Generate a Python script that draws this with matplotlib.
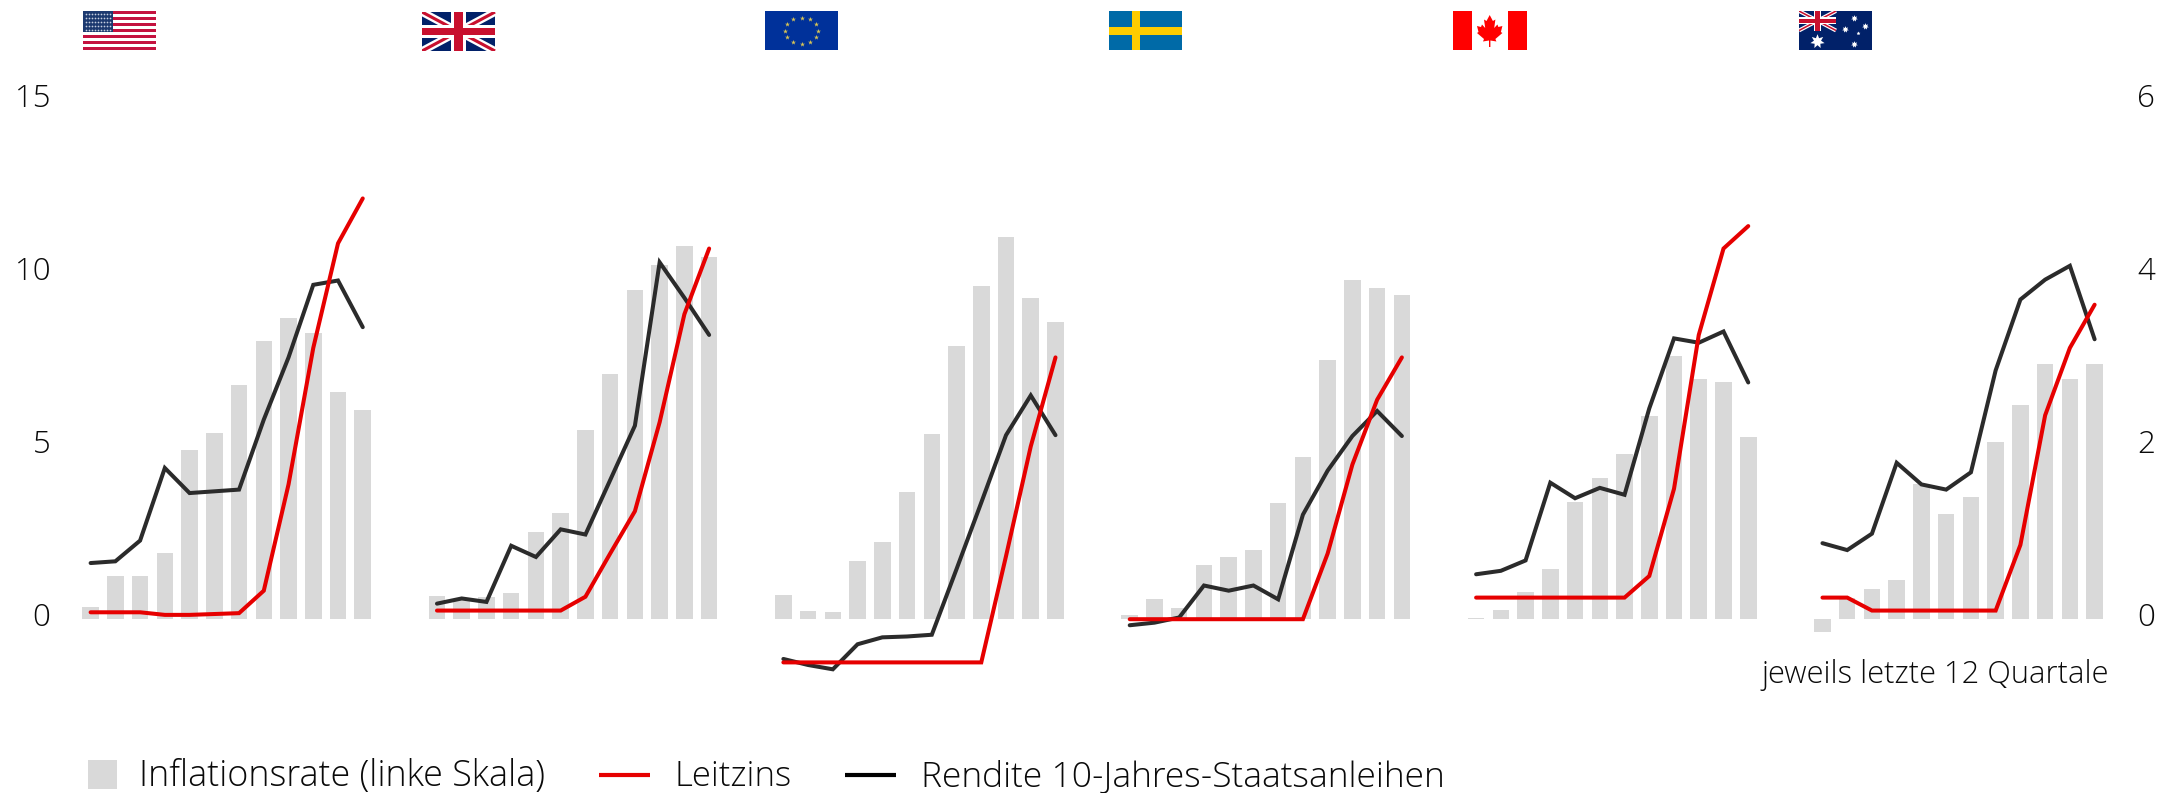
import numpy as np
import matplotlib
matplotlib.use("Agg")
import matplotlib.pyplot as plt
from matplotlib.lines import Line2D
from matplotlib.patches import Rectangle, Polygon
from matplotlib.transforms import ScaledTranslation

plt.rcParams['font.family'] = ['Open Sans', 'DejaVu Sans']

# ==========================================
# Daten (12 Quartale je Land)
# ==========================================
us_inflation = [0.36, 1.24, 1.25, 1.91, 4.9, 5.39, 6.77, 8.05, 8.72, 8.28, 6.56, 6.06]
us_yield = [0.65, 0.67, 0.91, 1.75, 1.46, 1.48, 1.50, 2.31, 3.03, 3.87, 3.92, 3.38]
us_policy = [0.08, 0.08, 0.08, 0.05, 0.05, 0.06, 0.07, 0.33, 1.56, 3.14, 4.35, 4.87]

uk_inflation = [0.66, 0.55, 0.65, 0.76, 2.52, 3.06, 5.47, 7.09, 9.52, 10.25, 10.8, 10.49]
uk_yield = [0.18, 0.24, 0.2, 0.85, 0.72, 1.04, 0.98, 1.61, 2.24, 4.13, 3.72, 3.29]
uk_policy = [0.1, 0.1, 0.1, 0.1, 0.1, 0.1, 0.26, 0.76, 1.25, 2.28, 3.53, 4.29]

eu_inflation = [0.71, 0.23, 0.21, 1.69, 2.24, 3.67, 5.36, 7.91, 9.65, 11.06, 9.29, 8.59]
eu_yield = [-0.46, -0.53, -0.58, -0.29, -0.21, -0.2, -0.18, 0.58, 1.35, 2.13, 2.59, 2.13]
eu_policy = [-0.5, -0.5, -0.5, -0.5, -0.5, -0.5, -0.5, -0.5, -0.5, 0.73, 2.0, 3.03]

se_inflation = [0.12, 0.58, 0.32, 1.56, 1.81, 2.0, 3.36, 4.69, 7.51, 9.81, 9.59, 9.39]
se_yield = [-0.07, -0.04, 0.02, 0.39, 0.33, 0.39, 0.23, 1.21, 1.72, 2.12, 2.41, 2.12]
se_policy = [0, 0, 0, 0, 0, 0, 0, 0, 0.76, 1.79, 2.54, 3.03]

ca_inflation = [0.03, 0.27, 0.79, 1.45, 3.38, 4.1, 4.78, 5.89, 7.62, 6.96, 6.86, 5.26]
ca_yield = [0.52, 0.56, 0.68, 1.58, 1.4, 1.52, 1.44, 2.44, 3.25, 3.2, 3.33, 2.74]
ca_policy = [0.25, 0.25, 0.25, 0.25, 0.25, 0.25, 0.25, 0.5, 1.51, 3.29, 4.29, 4.55]

au_inflation = [-0.36, 0.6, 0.87, 1.12, 3.9, 3.04, 3.54, 5.14, 6.2, 7.39, 6.96, 7.39]
au_yield = [0.88, 0.8, 0.99, 1.81, 1.56, 1.5, 1.7, 2.88, 3.7, 3.93, 4.09, 3.24]
au_policy = [0.25, 0.25, 0.1, 0.1, 0.1, 0.1, 0.1, 0.1, 0.86, 2.36, 3.14, 3.64]

inflation = [us_inflation, uk_inflation, eu_inflation, se_inflation, ca_inflation, au_inflation]
yields = [us_yield, uk_yield, eu_yield, se_yield, ca_yield, au_yield]
policy = [us_policy, uk_policy, eu_policy, se_policy, ca_policy, au_policy]

left_ticks = [0, 5, 10, 15]
right_ticks = [0, 2, 4, 6]

GREY = '#d9d9d9'
RED = '#e60000'
DARK = '#2b2b2b'
TEXT = '#0a0a0a'

W, H = 2166, 793
fig = plt.figure(figsize=(W / 100, H / 100), dpi=100)


def px_rect(x0, y0, x1, y1):
    # Pixelrechteck (y von oben) -> Figure-Koordinaten
    return [x0 / W, 1 - y1 / H, (x1 - x0) / W, (y1 - y0) / H]


# ==========================================
# Hauptachsen
# ==========================================
ax = fig.add_axes(px_rect(60, 100.8, 2130, 705.6))
ax2 = ax.twinx()
for a in (ax, ax2):
    for s in a.spines.values():
        s.set_visible(False)
    a.patch.set_visible(False)

ax.set_xlim(-1.237, 82.43)
ax.set_ylim(-2.5, 15)
ax2.set_ylim(-1.0, 6)
ax.set_xticks([])

for g in range(6):
    x = np.arange(12) + g * 14
    ax.bar(x, inflation[g], width=0.67, color=GREY, linewidth=0)
    ax2.plot(x, yields[g], color=DARK, lw=2.9, solid_capstyle='round', solid_joinstyle='miter', zorder=3)
    ax2.plot(x, policy[g], color=RED, lw=2.9, solid_capstyle='round', solid_joinstyle='miter', zorder=4)

ax.set_yticks(left_ticks)
ax2.set_yticks(right_ticks)
ax.tick_params(axis='y', length=0, pad=7, labelsize=22.5, labelcolor=TEXT)
ax2.tick_params(axis='y', length=0, pad=5, labelsize=22.5, labelcolor=TEXT)
offset = ScaledTranslation(0, 5.5 / 100, fig.dpi_scale_trans)
for lab in ax.get_yticklabels() + ax2.get_yticklabels():
    lab.set_fontweight('light')
    lab.set_transform(lab.get_transform() + offset)

fig.text(1762 / W, 1 - 675 / H, 'jeweils letzte 12 Quartale', fontsize=22.2, fontweight='light',
         color=TEXT, ha='left', va='center')


# ==========================================
# Flaggen
# ==========================================
def union_jack(a, x0, y0, w, h):
    a.add_patch(Rectangle((x0, y0), w, h, color='#012169', lw=0))
    for (xa, ya, xb, yb) in [(x0, y0, x0 + w, y0 + h), (x0, y0 + h, x0 + w, y0)]:
        a.plot([xa, xb], [ya, yb], color='white', lw=h * 0.2 * 72 / 100, solid_capstyle='butt', clip_on=True)
        a.plot([xa, xb], [ya, yb], color='#c8102e', lw=h * 0.08 * 72 / 100, solid_capstyle='butt', clip_on=True)
    a.add_patch(Rectangle((x0 + w * 0.4, y0), w * 0.2, h, color='white', lw=0, zorder=3))
    a.add_patch(Rectangle((x0, y0 + h * 0.33), w, h * 0.34, color='white', lw=0, zorder=3))
    a.add_patch(Rectangle((x0 + w * 0.445, y0), w * 0.11, h, color='#c8102e', lw=0, zorder=4))
    a.add_patch(Rectangle((x0, y0 + h * 0.4), w, h * 0.2, color='#c8102e', lw=0, zorder=4))


def flag_us(a):
    for i in range(13):
        a.add_patch(Rectangle((0, 39 - (i + 1) * 3), 73, 3, color='#c4123f' if i % 2 == 0 else 'white', lw=0))
    a.add_patch(Rectangle((0, 18), 29.5, 21, color='#1d3a70', lw=0, zorder=3))
    for r in range(5):
        for c in range(9):
            a.scatter(2.5 + c * 3, 20.5 + r * 4, s=1.5, color='#c5cfe0', lw=0, zorder=4)


def flag_uk(a):
    union_jack(a, 0, 0, 73, 39)


def flag_eu(a):
    a.add_patch(Rectangle((0, 0), 73, 39, color='#00319a', lw=0))
    ang = np.deg2rad(np.arange(0, 360, 30))
    a.scatter(36.5 + 16.5 * np.cos(ang), 19.5 + 13 * np.sin(ang), marker='*', s=14, color='#d8c455', lw=0, zorder=3)


def flag_se(a):
    a.add_patch(Rectangle((0, 0), 73, 39, color='#006aa7', lw=0))
    a.add_patch(Rectangle((23, 0), 8, 39, color='#fecc00', lw=0, zorder=3))
    a.add_patch(Rectangle((0, 15.5), 73, 8, color='#fecc00', lw=0, zorder=3))


def flag_ca(a):
    a.add_patch(Rectangle((0, 0), 18.5, 39, color='#ff0000', lw=0))
    a.add_patch(Rectangle((55, 0), 18.5, 39, color='#ff0000', lw=0))
    leaf = [(36.7, 35), (33.5, 29), (31, 30.5), (32.2, 22), (29, 25.5), (28, 23), (24, 24), (25.5, 18),
            (24, 17), (31, 11), (30, 8.5), (36, 9.5), (36, 3), (37.4, 3), (37.4, 9.5), (43.4, 8.5),
            (42.4, 11), (49.4, 17), (47.9, 18), (49.4, 24), (45.4, 23), (44.4, 25.5), (41.2, 22),
            (42.4, 30.5), (39.9, 29)]
    a.add_patch(Polygon(leaf, closed=True, color='#ff0000', lw=0))


def flag_au(a):
    a.add_patch(Rectangle((0, 0), 73.5, 39, color='#012169', lw=0))
    union_jack(a, 0, 19.5, 37, 19.5)
    a.scatter([18], [9.5], marker=(7, 1, 0), s=110, color='white', lw=0, zorder=5)
    a.scatter([55, 55, 66, 46], [32, 6, 24.5, 21], marker=(7, 1, 0), s=24, color='white', lw=0, zorder=5)
    a.scatter([59], [17.5], marker=(5, 1, 0), s=8, color='white', lw=0, zorder=5)


flag_boxes = [(83, 11), (422, 12), (765, 11), (1108.5, 11), (1453, 11), (1799, 11)]
flag_funcs = [flag_us, flag_uk, flag_eu, flag_se, flag_ca, flag_au]
for (fx, fy), func in zip(flag_boxes, flag_funcs):
    fa = fig.add_axes(px_rect(fx, fy, fx + 73.5, fy + 39))
    fa.set_xlim(0, 73.5)
    fa.set_ylim(0, 39)
    fa.axis('off')
    func(fa)

# ==========================================
# Legende
# ==========================================
fig.add_artist(Rectangle((88 / W, 1 - 789 / H), 29 / W, 29 / H, transform=fig.transFigure, color=GREY, lw=0))
fig.add_artist(Line2D([599 / W, 650 / W], [1 - 775 / H] * 2, color=RED, lw=3, solid_capstyle='butt'))
fig.add_artist(Line2D([845 / W, 896 / W], [1 - 775 / H] * 2, color='black', lw=3, solid_capstyle='butt'))
legend_y = 1 - 777 / H
fig.text(139 / W, legend_y, 'Inflationsrate (linke Skala)', fontsize=25.8, fontweight='light', color=TEXT, va='center')
fig.text(675 / W, legend_y, 'Leitzins', fontsize=25, fontweight='light', color=TEXT, va='center')
fig.text(921 / W, legend_y, 'Rendite 10-Jahres-Staatsanleihen', fontsize=25.5, fontweight='light', color=TEXT, va='center')

fig.savefig('out.png', dpi=100)
